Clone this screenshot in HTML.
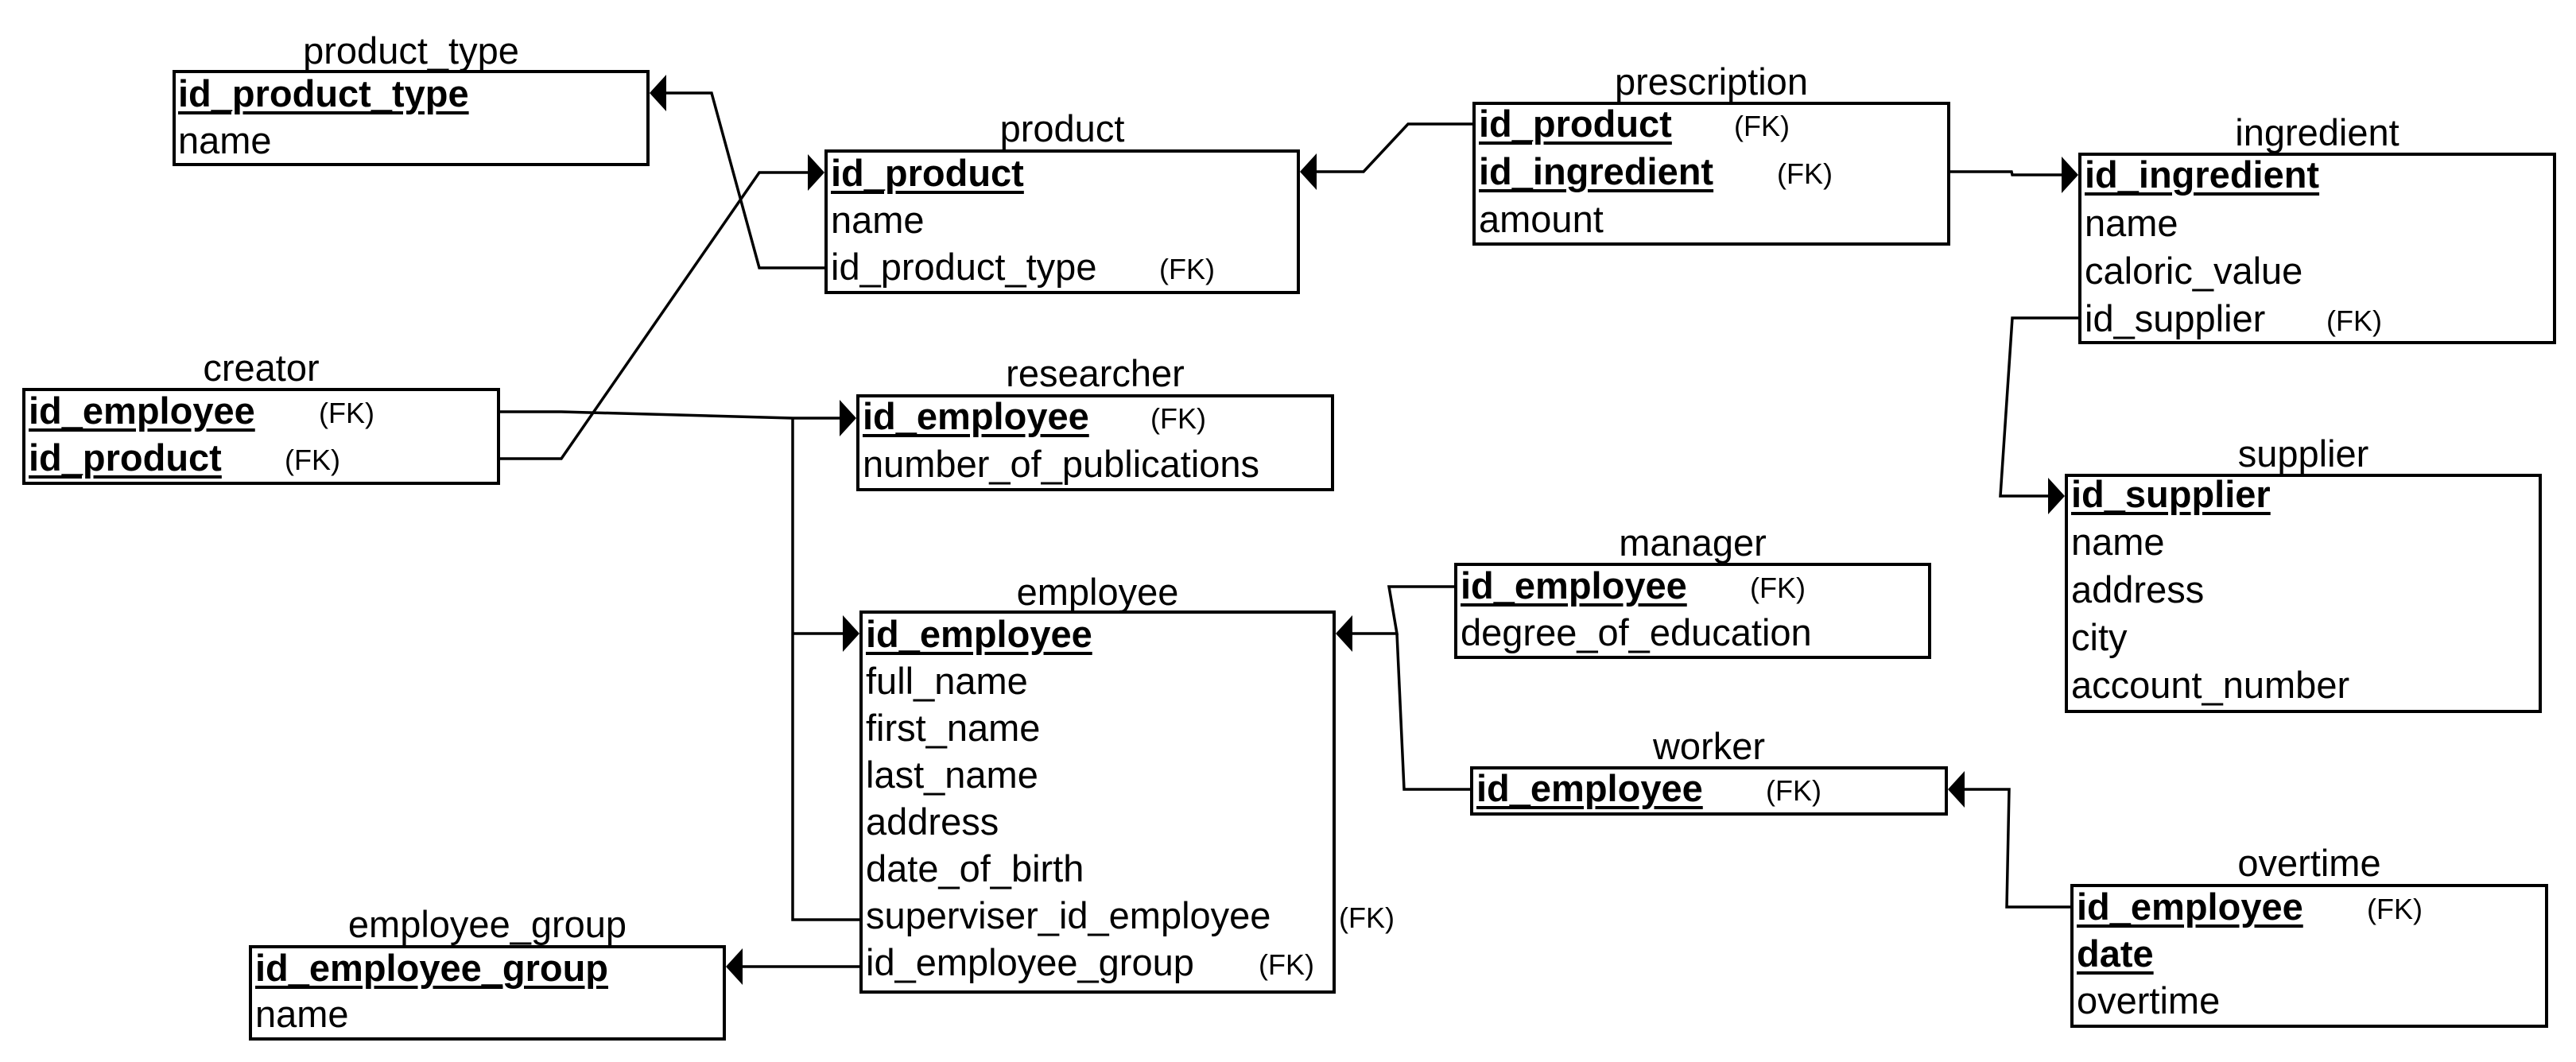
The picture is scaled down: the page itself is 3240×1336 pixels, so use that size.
<!DOCTYPE html>
<html><head><meta charset="utf-8"><style>
html,body{margin:0;padding:0;background:#fff;}
body{width:3240px;height:1336px;position:relative;overflow:hidden;font-family:"Liberation Sans",Arial,sans-serif;color:#000;}
.b{position:absolute;border:4px solid #000;box-sizing:border-box;background:#fff;}
.t{position:absolute;font-size:47px;line-height:47px;white-space:nowrap;margin-top:2px;}
.k{font-weight:bold;text-decoration:underline;text-decoration-thickness:4px;text-underline-offset:6px;}
.f{position:absolute;font-size:36px;line-height:36px;white-space:nowrap;margin-top:2px;}
.h{position:absolute;font-size:47px;line-height:47px;text-align:center;white-space:nowrap;margin-top:2px;}
svg{position:absolute;left:0;top:0;}
</style></head><body>

<div class="b" style="left:217px;top:88px;width:600px;height:121px"></div>
<div class="b" style="left:1037px;top:188px;width:598px;height:182px"></div>
<div class="b" style="left:28px;top:488px;width:601px;height:122px"></div>
<div class="b" style="left:1077px;top:496px;width:601px;height:122px"></div>
<div class="b" style="left:1852px;top:128px;width:601px;height:181px"></div>
<div class="b" style="left:2614px;top:192px;width:601px;height:241px"></div>
<div class="b" style="left:2597px;top:596px;width:600px;height:301px"></div>
<div class="b" style="left:1829px;top:708px;width:600px;height:121px"></div>
<div class="b" style="left:1849px;top:964px;width:601px;height:62px"></div>
<div class="b" style="left:2604px;top:1112px;width:601px;height:181px"></div>
<div class="b" style="left:1081px;top:768px;width:599px;height:482px"></div>
<div class="b" style="left:313px;top:1189px;width:600px;height:120px"></div>

<svg width="3240" height="1336" viewBox="0 0 3240 1336">
<g fill="none" stroke="#000" stroke-width="3.5" stroke-linejoin="miter">
<polyline points="1037,337 955,337 895,117 835,117"/>
<polyline points="629,577 706,577 955,217 1017,217"/>
<polyline points="629,518 706,518 997,526 1057,526"/>
<polyline points="997,526 997,1157 1081,1157"/>
<polyline points="997,797 1061,797"/>
<polyline points="1852,156 1771,156 1715,216 1655,216"/>
<polyline points="2453,216 2530,216 2531,220 2594,220"/>
<polyline points="2614,400 2531,400 2516,624 2577,624"/>
<polyline points="1829,738 1747,738 1757,797 1700,797"/>
<polyline points="1757,797 1766,993 1849,993"/>
<polyline points="2604,1141 2524,1141 2527,993 2470,993"/>
<polyline points="1081,1216 933,1216"/>
</g>
<g fill="#000">
<polygon points="817,117 838,94 838,140"/>
<polygon points="1037,217 1016,194 1016,240"/>
<polygon points="1077,526 1056,503 1056,549"/>
<polygon points="1081,797 1060,774 1060,820"/>
<polygon points="1635,216 1656,193 1656,239"/>
<polygon points="2614,220 2593,197 2593,243"/>
<polygon points="2597,624 2576,601 2576,647"/>
<polygon points="1680,797 1701,774 1701,820"/>
<polygon points="2450,993 2471,970 2471,1016"/>
<polygon points="913,1216 934,1193 934,1239"/>
</g>
</svg>

<div class="h" style="left:217px;width:600px;top:38px">product_type</div>
<div class="t k" style="left:224px;top:92px">id_product_type</div>
<div class="t" style="left:224px;top:151px">name</div>

<div class="h" style="left:1037px;width:598px;top:136px">product</div>
<div class="t k" style="left:1045px;top:192px">id_product</div>
<div class="t" style="left:1045px;top:251px">name</div>
<div class="t" style="left:1045px;top:310px">id_product_type</div>
<div class="f" style="left:1458px;top:319px">(FK)</div>

<div class="h" style="left:28px;width:601px;top:437px">creator</div>
<div class="t k" style="left:36px;top:491px">id_employee</div>
<div class="f" style="left:401px;top:500px">(FK)</div>
<div class="t k" style="left:36px;top:550px">id_product</div>
<div class="f" style="left:358px;top:559px">(FK)</div>

<div class="h" style="left:1077px;width:601px;top:444px">researcher</div>
<div class="t k" style="left:1085px;top:498px">id_employee</div>
<div class="f" style="left:1447px;top:507px">(FK)</div>
<div class="t" style="left:1085px;top:558px">number_of_publications</div>

<div class="h" style="left:1852px;width:601px;top:77px">prescription</div>
<div class="t k" style="left:1860px;top:130px">id_product</div>
<div class="f" style="left:2181px;top:139px">(FK)</div>
<div class="t k" style="left:1860px;top:190px">id_ingredient</div>
<div class="f" style="left:2235px;top:199px">(FK)</div>
<div class="t" style="left:1860px;top:250px">amount</div>

<div class="h" style="left:2614px;width:601px;top:141px">ingredient</div>
<div class="t k" style="left:2622px;top:194px">id_ingredient</div>
<div class="t" style="left:2622px;top:255px">name</div>
<div class="t" style="left:2622px;top:315px">caloric_value</div>
<div class="t" style="left:2622px;top:375px">id_supplier</div>
<div class="f" style="left:2926px;top:384px">(FK)</div>

<div class="h" style="left:2597px;width:600px;top:545px">supplier</div>
<div class="t k" style="left:2605px;top:596px">id_supplier</div>
<div class="t" style="left:2605px;top:656px">name</div>
<div class="t" style="left:2605px;top:716px">address</div>
<div class="t" style="left:2605px;top:776px">city</div>
<div class="t" style="left:2605px;top:836px">account_number</div>

<div class="h" style="left:1829px;width:600px;top:657px">manager</div>
<div class="t k" style="left:1837px;top:711px">id_employee</div>
<div class="f" style="left:2201px;top:720px">(FK)</div>
<div class="t" style="left:1837px;top:770px">degree_of_education</div>

<div class="h" style="left:1849px;width:601px;top:913px">worker</div>
<div class="t k" style="left:1857px;top:966px">id_employee</div>
<div class="f" style="left:2221px;top:975px">(FK)</div>

<div class="h" style="left:2604px;width:601px;top:1060px">overtime</div>
<div class="t k" style="left:2612px;top:1115px">id_employee</div>
<div class="f" style="left:2977px;top:1124px">(FK)</div>
<div class="t k" style="left:2612px;top:1174px">date</div>
<div class="t" style="left:2612px;top:1233px">overtime</div>

<div class="h" style="left:1081px;width:599px;top:719px">employee</div>
<div class="t k" style="left:1089px;top:772px">id_employee</div>
<div class="t" style="left:1089px;top:831px">full_name</div>
<div class="t" style="left:1089px;top:890px">first_name</div>
<div class="t" style="left:1089px;top:949px">last_name</div>
<div class="t" style="left:1089px;top:1008px">address</div>
<div class="t" style="left:1089px;top:1067px">date_of_birth</div>
<div class="t" style="left:1089px;top:1126px">superviser_id_employee</div>
<div class="f" style="left:1684px;top:1135px">(FK)</div>
<div class="t" style="left:1089px;top:1185px">id_employee_group</div>
<div class="f" style="left:1583px;top:1194px">(FK)</div>

<div class="h" style="left:313px;width:600px;top:1137px">employee_group</div>
<div class="t k" style="left:321px;top:1192px">id_employee_group</div>
<div class="t" style="left:321px;top:1250px">name</div>

</body></html>
